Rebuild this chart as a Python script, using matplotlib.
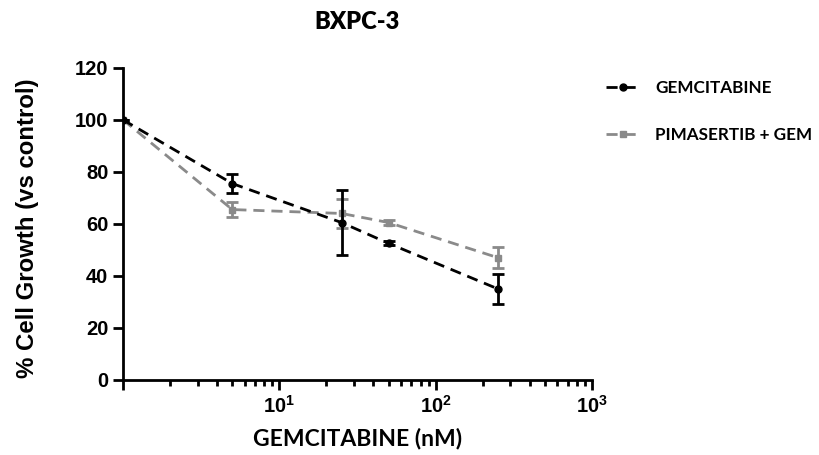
import matplotlib
matplotlib.use("Agg")
import matplotlib.pyplot as plt
from matplotlib.ticker import FixedLocator, FixedFormatter, LogLocator, NullFormatter

plt.rcParams["mathtext.fontset"] = "custom"
plt.rcParams["mathtext.rm"] = "Liberation Sans:bold"
plt.rcParams["mathtext.bf"] = "Liberation Sans:bold"

# concentrations (nM) and % growth vs control
conc = [1, 5, 25, 50, 250]
gem_mean = [100, 75.5, 60.5, 52.5, 35.0]
gem_err = [0, 3.5, 12.5, 0.8, 5.8]
pim_mean = [100, 65.5, 64.0, 60.5, 47.0]
pim_err = [0, 3.0, 5.5, 0.8, 4.0]

labels = ["GEMCITABINE", "PIMASERTIB + GEM"]
colors = ["#000000", "#8a8a8a"]
xtick_vals = [1, 10, 100, 1000]
xtick_text = ["", r"$10^{1}$", r"$10^{2}$", r"$10^{3}$"]

fig = plt.figure(figsize=(8.2, 4.55), dpi=100)
ax = fig.add_axes([0.15, 0.165, 0.572, 0.686])

ax.errorbar(conc, pim_mean, yerr=pim_err, color=colors[1], ls="--", lw=2,
            marker="s", ms=5, capsize=4.5, capthick=2, elinewidth=2,
            dashes=(4, 2.5), label=labels[1], zorder=2)
ax.errorbar(conc, gem_mean, yerr=gem_err, color=colors[0], ls="--", lw=2,
            marker="o", ms=5, capsize=4.5, capthick=2, elinewidth=2,
            dashes=(4, 2.5), label=labels[0], zorder=3)

ax.set_xscale("log")
ax.set_xlim(1, 1000)
ax.set_ylim(0, 120)
ax.set_yticks(range(0, 121, 20))

ax.xaxis.set_major_locator(FixedLocator(xtick_vals))
ax.xaxis.set_major_formatter(FixedFormatter(xtick_text))
ax.xaxis.set_minor_locator(LogLocator(base=10, subs=range(2, 10)))
ax.xaxis.set_minor_formatter(NullFormatter())

for side in ["top", "right"]:
    ax.spines[side].set_visible(False)
for side in ["left", "bottom"]:
    ax.spines[side].set_linewidth(2)

ax.tick_params(axis="both", which="major", direction="out", length=7, width=2)
ax.tick_params(axis="x", which="minor", direction="out", length=4, width=2)
for lab in ax.get_xticklabels() + ax.get_yticklabels():
    lab.set_fontfamily("Liberation Sans")
    lab.set_fontweight("bold")
    lab.set_fontsize(14.5)

ax.set_ylabel("% Cell Growth (vs control)", family="Liberation Sans",
              fontweight="bold", fontsize=17.3)
ax.yaxis.set_label_coords(-0.18, 0.485)
ax.set_xlabel("GEMCITABINE (nM)", family="Lato", fontweight="bold",
              fontsize=16.5, labelpad=8)
fig.text(0.435, 0.952, "BXPC-3", family="Lato", fontweight="heavy",
         fontsize=17, ha="center", va="center")

handles, names = ax.get_legend_handles_labels()
order = [1, 0]
fig.legend([handles[i][0] for i in order], [names[i] for i in order],
           loc="upper left", bbox_to_anchor=(0.72, 0.857), frameon=False,
           handlelength=2.0, handletextpad=0.9, labelspacing=1.8,
           prop={"family": "Lato", "weight": "bold", "size": 12.3})

fig.savefig("out.png", dpi=100)
